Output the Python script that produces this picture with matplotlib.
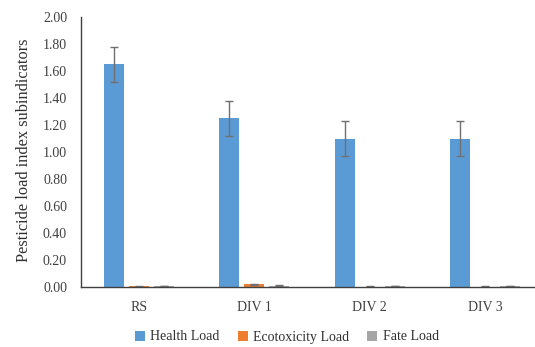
import matplotlib
matplotlib.use("Agg")
import matplotlib.pyplot as plt
import numpy as np

categories = ["RS", "DIV 1", "DIV 2", "DIV 3"]
series_names = ["Health Load", "Ecotoxicity Load", "Fate Load"]
health = [1.65, 1.25, 1.10, 1.10]
health_err = [0.13, 0.13, 0.13, 0.13]
ecotox = [0.005, 0.02, 0.003, 0.003]
ecotox_err = [0.002, 0.005, 0.001, 0.001]
fate = [0.008, 0.01, 0.005, 0.005]
fate_err = [0.002, 0.003, 0.001, 0.001]
yticks = [0.0, 0.2, 0.4, 0.6, 0.8, 1.0, 1.2, 1.4, 1.6, 1.8, 2.0]

colors = ["#5B9BD5", "#ED7D31", "#A5A5A5"]

plt.rcParams['font.family'] = ['Liberation Serif', 'DejaVu Serif']

fig = plt.figure(figsize=(5.35, 3.47), dpi=100)
ax = fig.add_axes([81/535, 60/347, (535-81)/535, 270/347])

x = np.arange(len(categories))
w = 0.173
sp = 0.216
vals = [health, ecotox, fate]
errs = [health_err, ecotox_err, fate_err]
for i, (v, e, c, n) in enumerate(zip(vals, errs, colors, series_names)):
    ax.bar(x + (i - 1) * sp, v, width=w, color=c, label=n,
           yerr=e, error_kw=dict(ecolor="#707070", elinewidth=1.0, capsize=3, capthick=1.0))

ax.set_xlim(-0.5, 3.43)
ax.set_ylim(0, 2.0)
ax.set_yticks(yticks)
ax.set_yticklabels([f"{t:.2f}" for t in yticks], fontsize=10)
ax.set_xticks(x)
ax.set_xticklabels(categories, fontsize=10)
ax.tick_params(axis='both', length=0, colors="#404040")
ax.tick_params(axis='y', pad=10)
ax.tick_params(axis='x', pad=10)
for s in ["top", "right"]:
    ax.spines[s].set_visible(False)
for s in ["left", "bottom"]:
    ax.spines[s].set_color("#404040")
    ax.spines[s].set_linewidth(1.0)
ax.set_ylabel("Pesticide load index subindicators", fontsize=11.8, color="#303030")
ax.yaxis.set_label_coords(-0.107, 0.505)

fig.legend(loc="center", bbox_to_anchor=(287/535, 1 - 337/347), ncol=3, frameon=False,
           fontsize=10, handlelength=0.7, handleheight=0.7, handletextpad=0.4,
           columnspacing=1.3, labelcolor="#303030")

fig.savefig("out.png", dpi=100)
